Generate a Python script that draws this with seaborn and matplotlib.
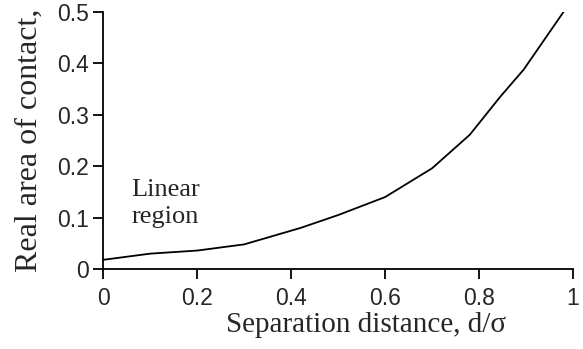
import matplotlib
matplotlib.use("Agg")
import matplotlib.pyplot as plt
import seaborn as sns
import pandas as pd

# values
separation = [0.0, 0.1, 0.2, 0.3, 0.42, 0.5, 0.6, 0.7, 0.78, 0.845, 0.895, 0.985]
contact_area = [0.018, 0.030, 0.036, 0.048, 0.080, 0.105, 0.140, 0.196, 0.261, 0.335, 0.388, 0.507]

x_ticks = [0, 0.2, 0.4, 0.6, 0.8, 1]
x_tick_labels = ["0", "0.2", "0.4", "0.6", "0.8", "1"]
y_ticks = [0, 0.1, 0.2, 0.3, 0.4, 0.5]
y_tick_labels = ["0", "0.1", "0.2", "0.3", "0.4", "0.5"]

df = pd.DataFrame({"d": separation, "area": contact_area})

sns.set_style("ticks")
plt.rcParams["font.family"] = ["Liberation Sans", "DejaVu Sans"]

fig = plt.figure(figsize=(5.83, 3.49), dpi=100)
ax = fig.add_axes([0.177, 0.229, 0.806, 0.737])

sns.lineplot(data=df, x="d", y="area", color="black", linewidth=1.3, ax=ax)

ax.set_xlim(0, 1)
ax.set_ylim(0, 0.5)
ax.set_xticks(x_ticks)
ax.set_xticklabels(x_tick_labels)
ax.set_yticks(y_ticks)
ax.set_yticklabels(y_tick_labels)
ax.tick_params(labelsize=16.5, length=7, width=1.3, color="black", direction="out")
ax.tick_params(axis="x", pad=6)
ax.tick_params(axis="y", pad=3)
for s in ["left", "bottom"]:
    ax.spines[s].set_linewidth(1.3)
    ax.spines[s].set_color("black")
sns.despine(ax=ax)

serif = ["Liberation Serif", "DejaVu Serif"]
ax.set_xlabel("Separation distance, d/σ", family=serif, fontsize=21)
ax.xaxis.set_label_coords(0.56, -0.165)
ax.set_ylabel("Real area of contact,", family=serif, fontsize=23, labelpad=10)
ax.text(0.06, 0.176, "Linear\nregion", family=serif, fontsize=19,
        va="top", ha="left", linespacing=1.3)

fig.savefig("out.png", dpi=100)
